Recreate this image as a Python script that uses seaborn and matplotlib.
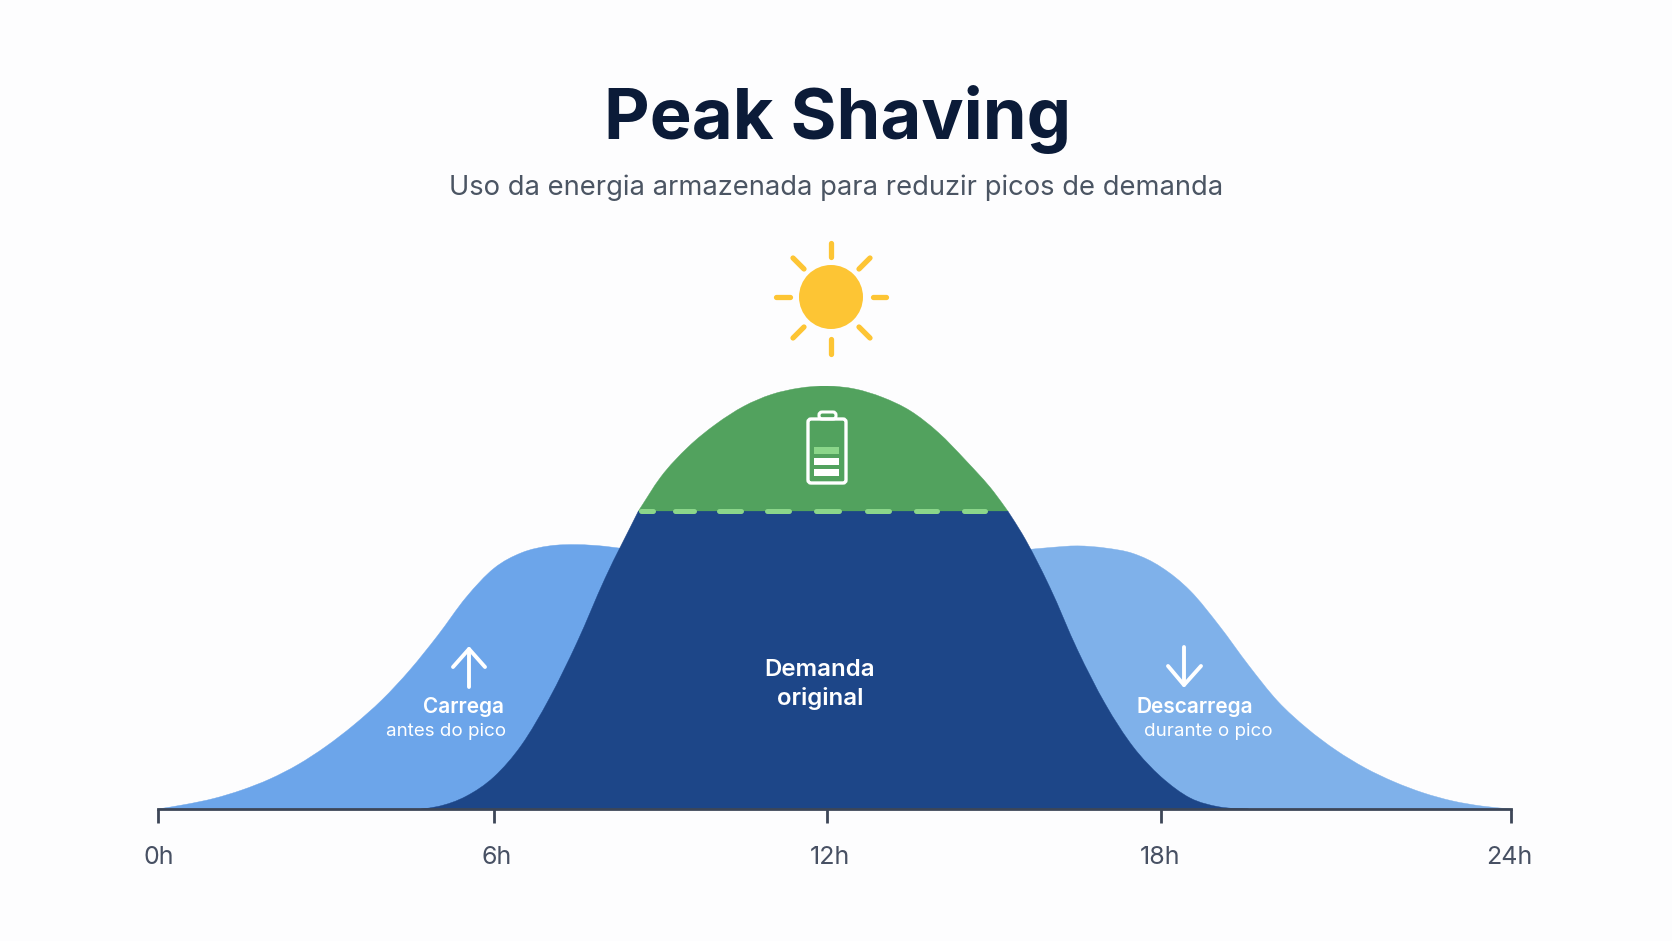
import numpy as np
import pandas as pd
import seaborn as sns
import matplotlib.pyplot as plt
from matplotlib.patches import Circle, FancyBboxPatch, PathPatch, Rectangle
from matplotlib.path import Path
from matplotlib.transforms import ScaledTranslation

# data: hours against demand in % of the peak
hour_ticks = [0, 6, 12, 18, 24]
hour_labels = ['0h', '6h', '12h', '18h', '24h']

charge_hours = [0, 0.5, 1, 1.5, 2, 2.5, 3, 3.5, 4, 4.5, 5, 5.5, 6, 6.5, 7, 7.5, 8, 8.5]
charge_vals = [0, 1.1, 2.5, 4.5, 7.1, 10.5, 14.8, 19.9, 25.8, 32.9, 41.1, 50.0, 56.9, 60.6, 62.2, 62.5, 62.1, 61.2]

discharge_hours = [15.5, 16, 16.5, 17, 17.5, 18, 18.5, 19, 19.5, 20, 20.5, 21, 21.5, 22, 22.5, 23, 23.5, 24]
discharge_vals = [61.2, 61.8, 62.2, 61.7, 60.4, 57.2, 51.6, 43.3, 34.0, 25.5, 19.1, 13.9, 9.7, 6.4, 3.8, 1.9, 0.7, 0]

rise_hours = [4.7, 5, 5.5, 6, 6.5, 7, 7.5, 8, 8.6]
rise_vals = [0, 0.6, 3.0, 7.6, 15.2, 26.2, 39.5, 54.5, 70.4]

fall_hours = [15.25, 15.5, 16, 16.5, 17, 17.5, 18, 18.5, 19, 19.5]
fall_vals = [70.4, 65.2, 52.5, 37.6, 24.8, 14.7, 7.6, 2.6, 0.5, 0]

shaved_hours = [8.6, 9, 9.5, 10, 10.5, 11, 11.5, 12, 12.5, 13, 13.5, 14, 14.5, 15, 15.25]
shaved_vals = [70.4, 78.4, 85.6, 91.0, 95.2, 98.0, 99.5, 100, 99.3, 97.3, 94.1, 89.0, 82.3, 74.9, 70.4]

limit_hours = [8.65, 15.2]
limit_vals = [70.4, 70.4]

BG = '#fdfdfe'
LIGHT_L = '#6ca5ea'
LIGHT_R = '#7fb1ea'
DARK = '#1d4688'
GREEN = '#52a25e'
DASH = '#8bd68a'
AXIS = '#3d4657'
W, H = 1672, 941


def curve(hours, vals):
    # bezier pieces through the read points, so the edge stays smooth
    x = np.array(hours, dtype=float)
    y = np.array(vals, dtype=float)
    m = np.gradient(y, x)
    verts, codes = [], []
    for i in range(len(x) - 1):
        dx = (x[i + 1] - x[i]) / 3
        verts += [(x[i] + dx, y[i] + m[i] * dx), (x[i + 1] - dx, y[i + 1] - m[i + 1] * dx), (x[i + 1], y[i + 1])]
        codes += [Path.CURVE4] * 3
    return verts, codes


def area(ax, col, *parts):
    verts = [(parts[0][0][0], 0)]
    codes = [Path.MOVETO]
    for hrs, vals in parts:
        verts.append((hrs[0], vals[0]))
        codes.append(Path.LINETO)
        v, c = curve(hrs, vals)
        verts += v
        codes += c
    verts += [(parts[-1][0][-1], 0), (parts[0][0][0], 0)]
    codes += [Path.LINETO, Path.CLOSEPOLY]
    ax.add_patch(PathPatch(Path(verts, codes), fc=col, ec=col, lw=0.3))


sns.set_theme(style='white')
plt.rcParams['font.family'] = ['Inter', 'DejaVu Sans']

fig = plt.figure(figsize=(W / 100, H / 100), dpi=100, facecolor=BG)
ax = fig.add_axes([158 / W, 1 - 809 / H, (1511 - 158) / W, (809 - 386) / H], facecolor='none')

# the hour ticks of the picture are not quite evenly spaced
tick_px = [158, 494, 827, 1161, 1511]
ax.set_xscale('function', functions=(lambda h: np.interp(h, hour_ticks, tick_px),
                                     lambda p: np.interp(p, tick_px, hour_ticks)))

area(ax, LIGHT_L, (charge_hours, charge_vals))
area(ax, LIGHT_R, (discharge_hours, discharge_vals))
area(ax, GREEN, (shaved_hours, shaved_vals))
area(ax, DARK, (rise_hours, rise_vals), (fall_hours, fall_vals))

limit = pd.DataFrame({'hour': limit_hours, 'value': limit_vals})
sns.lineplot(data=limit, x='hour', y='value', color=DASH, lw=3.6, ax=ax, errorbar=None)
ax.lines[-1].set_dashes((2.4, 4.4, 3.8, 5, 4.4, 5.2, 4.4, 5.4, 4.6, 5.6, 4.4, 5.4, 4.2, 5.4, 4.2, 8))
ax.lines[-1].set_dash_capstyle('round')

ax.set_xlim(0, 24)
ax.set_ylim(0, 100)
ax.set_xlabel('')
ax.set_ylabel('')
ax.set_yticks([])
ax.set_xticks(hour_ticks, hour_labels)
ax.tick_params(axis='x', bottom=True, length=10, width=2, color=AXIS, labelcolor='#475063', labelsize=18, pad=17)
for lab, dx in zip(ax.get_xticklabels(), [1, 3, 3, -1, -2]):
    lab.set_transform(lab.get_transform() + ScaledTranslation(dx / 100, 0, fig.dpi_scale_trans))
sns.despine(ax=ax, left=True)
ax.spines['bottom'].set_color(AXIS)
ax.spines['bottom'].set_linewidth(2)

# overlay in picture pixels for the icons and the labels
ov = fig.add_axes([0, 0, 1, 1], facecolor='none')
ov.set_xlim(0, W)
ov.set_ylim(H, 0)
ov.axis('off')

ov.text(838, 119.5, 'Peak Shaving', ha='center', va='center', fontsize=50.8, fontweight='bold', color='#0b1b38')
ov.text(836, 188, 'Uso da energia armazenada para reduzir picos de demanda', ha='center', va='center',
        fontsize=19.7, color='#4b5563')

# sun
SUN = '#fdc534'
ov.add_patch(Circle((831, 297), 32, color=SUN, lw=0))
for x0, y0, x1, y1 in [(831, 243, 831, 257), (831, 339, 831, 354), (776, 297, 790, 297), (873, 297, 886, 297),
                       (793, 258, 804, 269), (870, 258, 859, 269), (804, 327, 793, 338), (859, 327, 870, 338)]:
    ov.plot([x0, x1], [y0, y1], color=SUN, lw=3.8, solid_capstyle='round')

# battery
ov.add_patch(FancyBboxPatch((808, 419), 38, 64, boxstyle='round,pad=0,rounding_size=3', fc='none', ec='white', lw=2.4))
ov.add_patch(FancyBboxPatch((819, 412), 17, 7, boxstyle='round,pad=0,rounding_size=3', fc='none', ec='white', lw=2.2))
ov.add_patch(Rectangle((814, 447), 25, 7, color=DASH, lw=0))
ov.add_patch(Rectangle((814, 458), 25, 7, color='white', lw=0))
ov.add_patch(Rectangle((814, 469), 25, 7, color='white', lw=0))

# arrows
for pts in [[(469, 687), (469, 649)], [(453, 667), (469, 649), (485, 667)],
            [(1184, 647), (1184, 685)], [(1168, 666), (1184, 685), (1201, 666)]]:
    ov.plot([p[0] for p in pts], [p[1] for p in pts], color='white', lw=2.8,
            solid_capstyle='round', solid_joinstyle='round')

ov.text(464, 707, 'Carrega', ha='center', va='center', fontsize=15, fontweight='semibold', color='white')
ov.text(446, 732, 'antes do pico', ha='center', va='center', fontsize=13.5, color='white')
ov.text(1195, 707, 'Descarrega', ha='center', va='center', fontsize=15, fontweight='semibold', color='white')
ov.text(1208, 732, 'durante o pico', ha='center', va='center', fontsize=13.5, color='white')
ov.text(820, 670, 'Demanda', ha='center', va='center', fontsize=17.3, fontweight='semibold', color='white')
ov.text(820, 698, 'original', ha='center', va='center', fontsize=17.3, fontweight='semibold', color='white')

fig.savefig('out.png', dpi=100, facecolor=BG)
